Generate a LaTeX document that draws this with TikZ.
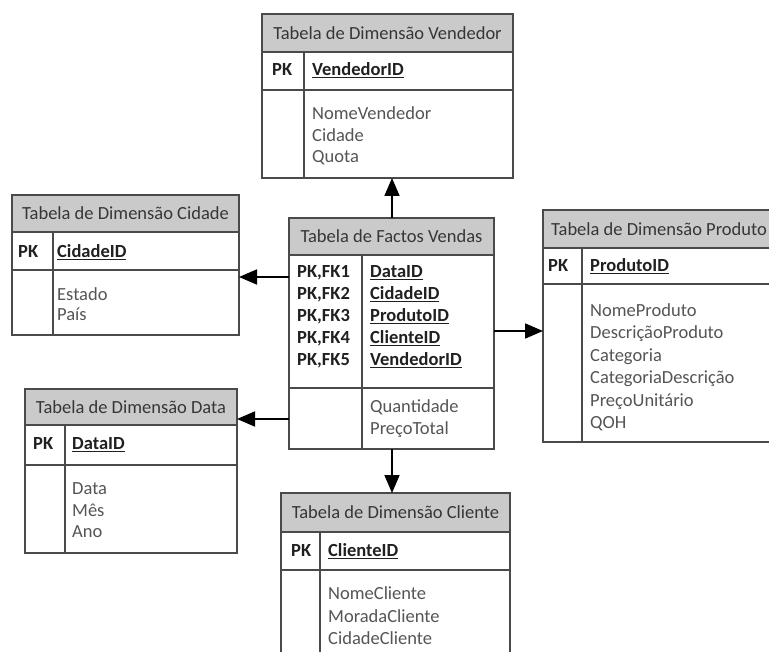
\documentclass[tikz,border=0pt]{standalone}
\usepackage{fontspec}
\setmainfont{Carlito}
\usetikzlibrary{arrows.meta}

\definecolor{hdrfill}{HTML}{CACACA}
\definecolor{rulecol}{HTML}{4A4A4A}
\definecolor{hdrtext}{HTML}{363636}
\definecolor{attrtext}{HTML}{555555}
\definecolor{keytext}{HTML}{202020}

\tikzset{
  tblbox/.style={draw=rulecol, line width=1.6pt, inner sep=0pt, outer sep=0pt, anchor=north west},
  hdrbox/.style={fill=hdrfill, draw=rulecol, line width=1.6pt, inner sep=0pt, outer sep=0pt,
                 anchor=north west, text=hdrtext, font=\fontsize{18.5}{22}\selectfont},
  seprule/.style={draw=rulecol, line width=1.6pt},
  keytxt/.style={anchor=west, inner sep=0pt, text=keytext, font=\fontsize{18.5}{22}\selectfont\bfseries,
                 text height=12pt, text depth=3pt},
  attrtxt/.style={anchor=west, inner sep=0pt, text=attrtext, font=\fontsize{18.5}{22}\selectfont,
                  text height=12pt, text depth=3pt},
  link/.style={draw=black, line width=1.8pt, -{Triangle[length=18pt,width=15pt]}},
}

% \dbtable{name}{left}{right}{top}{header bottom}{key bottom}{bottom}{divider x}{title}
\newcommand\dbtable[9]{%
  \node[tblbox, minimum width={#3pt-#2pt}, minimum height={#7pt-#4pt}] (#1) at (#2,#4) {};
  \node[hdrbox, minimum width={#3pt-#2pt}, minimum height={#5pt-#4pt}] (#1-head) at (#2,#4) {#9};
  \draw[seprule] (#2,#6) -- (#3,#6);
  \draw[seprule] (#8,#5) -- (#8,#7);
}

\begin{document}
\begin{tikzpicture}[x=1pt, y=-1pt]
\clip (0,0) rectangle (769,652);
\fill[white] (0,0) rectangle (769,652);

% ---- Vendedor
\dbtable{vend}{262}{513}{14}{52}{90}{178}{304}{Tabela de Dimensão Vendedor}
\node[keytxt] (vend-pk) at (272,71) {PK};
\node[keytxt] (vend-id) at (312,71) {\underline{VendedorID}};
\foreach \t [count=\i] in {NomeVendedor,Cidade,Quota}
  \node[attrtxt] (vend-a\i) at (312,{115+21.6*(\i-1)}) {\t};

% ---- Cidade
\dbtable{cid}{12}{239}{195}{232}{270}{335}{53}{Tabela de Dimensão Cidade}
\node[keytxt] (cid-pk) at (18,253) {PK};
\node[keytxt] (cid-id) at (57,253) {\underline{CidadeID}};
\foreach \t [count=\i] in {Estado,País}
  \node[attrtxt] (cid-a\i) at (57,{296+20.5*(\i-1)}) {\t};

% ---- Factos Vendas
\dbtable{fact}{289}{494}{218}{255}{388}{449}{362}{Tabela de Factos Vendas}
\foreach \i in {1,...,5}
  \node[keytxt] (fact-k\i) at (297,{273+22*(\i-1)}) {PK,FK\i};
\foreach \n [count=\i] in {DataID,CidadeID,ProdutoID,ClienteID,VendedorID}
  \node[keytxt] (fact-n\i) at (370,{273+22*(\i-1)}) {\underline{\n}};
\foreach \t [count=\i] in {Quantidade,PreçoTotal}
  \node[attrtxt] (fact-a\i) at (370,{408+22*(\i-1)}) {\t};

% ---- Produto
\dbtable{prod}{543}{775}{210}{248}{284}{442}{582}{Tabela de Dimensão Produto}
\node[keytxt] (prod-pk) at (548,267) {PK};
\node[keytxt] (prod-id) at (590,267) {\underline{ProdutoID}};
\foreach \t [count=\i] in {NomeProduto,DescriçãoProduto,Categoria,CategoriaDescrição,PreçoUnitário,QOH}
  \node[attrtxt] (prod-a\i) at (590,{312+22.4*(\i-1)}) {\t};

% ---- Data
\dbtable{data}{25}{237}{389}{425}{465}{553}{65}{Tabela de Dimensão Data}
\node[keytxt] (data-pk) at (33,445) {PK};
\node[keytxt] (data-id) at (72,445) {\underline{DataID}};
\foreach \t [count=\i] in {Data,Mês,Ano}
  \node[attrtxt] (data-a\i) at (72,{490+21.5*(\i-1)}) {\t};

% ---- Cliente
\dbtable{cli}{281}{510}{493}{532}{570}{690}{320}{Tabela de Dimensão Cliente}
\node[keytxt] (cli-pk) at (291,552) {PK};
\node[keytxt] (cli-id) at (328,552) {\underline{ClienteID}};
\foreach \t [count=\i] in {NomeCliente,MoradaCliente,CidadeCliente}
  \node[attrtxt] (cli-a\i) at (328,{595+22.5*(\i-1)}) {\t};

% ---- links from the fact table to the dimensions
\coordinate (y-cid) at (0,277);
\coordinate (y-prod) at (0,331);
\coordinate (y-data) at (0,419);
\coordinate (x-mid) at (392,0);
\draw[link] (fact.north -| x-mid) -- (vend.south -| x-mid);
\draw[link] (fact.south -| x-mid) -- (cli.north -| x-mid);
\draw[link] (fact.west |- y-cid) -- (cid.east |- y-cid);
\draw[link] (fact.east |- y-prod) -- (prod.west |- y-prod);
\draw[link] (fact.west |- y-data) -- (data.east |- y-data);
\end{tikzpicture}
\end{document}
